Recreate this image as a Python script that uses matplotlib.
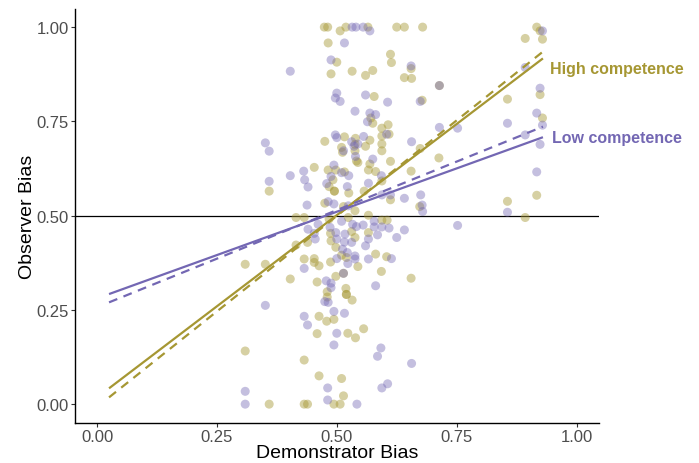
import numpy as np
import matplotlib
matplotlib.use("Agg")
import matplotlib.pyplot as plt

plt.rcParams['font.family'] = ['Liberation Sans', 'DejaVu Sans']

# high competence demonstrators (gold)
high_x = [0.474, 0.481, 0.519, 0.565, 0.625, 0.641, 0.679, 0.507, 0.482, 0.612,
          0.500, 0.614, 0.655, 0.532, 0.575, 0.488, 0.560, 0.641, 0.656, 0.714,
          0.578, 0.678, 0.571, 0.575, 0.594, 0.607, 0.609, 0.594, 0.516, 0.539,
          0.475, 0.569, 0.538, 0.560, 0.594, 0.510, 0.538, 0.512, 0.594, 0.674,
          0.713, 0.541, 0.544, 0.569, 0.453, 0.612, 0.482, 0.498, 0.566, 0.581,
          0.516, 0.655, 0.492, 0.594, 0.359, 0.495, 0.495, 0.484, 0.525, 0.557,
          0.612, 0.475, 0.673, 0.538, 0.514, 0.415, 0.432, 0.439, 0.415, 0.484,
          0.487, 0.488, 0.524, 0.531, 0.538, 0.594, 0.605, 0.566, 0.566, 0.498,
          0.510, 0.520, 0.487, 0.544, 0.581, 0.604, 0.432, 0.453, 0.453, 0.463,
          0.309, 0.351, 0.403, 0.514, 0.498, 0.593, 0.655, 0.459, 0.519, 0.520,
          0.520, 0.480, 0.480, 0.532, 0.463, 0.479, 0.494, 0.459, 0.523, 0.539,
          0.556, 0.309, 0.432, 0.463, 0.510, 0.514, 0.359, 0.432, 0.439, 0.494,
          0.507, 0.917, 0.924, 0.893, 0.929, 0.924, 0.856, 0.929, 0.917, 0.856,
          0.893]
high_y = [1.000, 1.000, 1.000, 1.000, 1.000, 1.000, 1.000, 0.990, 0.958, 0.928,
          0.907, 0.906, 0.890, 0.883, 0.885, 0.876, 0.872, 0.866, 0.864, 0.845,
          0.816, 0.806, 0.759, 0.745, 0.732, 0.741, 0.716, 0.711, 0.709, 0.705,
          0.697, 0.700, 0.689, 0.684, 0.690, 0.681, 0.672, 0.668, 0.672, 0.678,
          0.653, 0.645, 0.641, 0.637, 0.628, 0.644, 0.621, 0.621, 0.621, 0.617,
          0.616, 0.618, 0.595, 0.592, 0.565, 0.565, 0.565, 0.577, 0.560, 0.565,
          0.542, 0.533, 0.524, 0.513, 0.524, 0.495, 0.495, 0.429, 0.422, 0.491,
          0.453, 0.433, 0.495, 0.458, 0.442, 0.488, 0.488, 0.455, 0.501, 0.416,
          0.395, 0.389, 0.377, 0.365, 0.398, 0.391, 0.385, 0.386, 0.376, 0.367,
          0.371, 0.371, 0.332, 0.347, 0.339, 0.352, 0.334, 0.324, 0.307, 0.291,
          0.291, 0.298, 0.284, 0.276, 0.233, 0.220, 0.225, 0.187, 0.188, 0.176,
          0.200, 0.141, 0.117, 0.075, 0.068, 0.022, 0.000, 0.000, 0.000, 0.000,
          0.000, 1.000, 0.990, 0.970, 0.968, 0.821, 0.809, 0.759, 0.554, 0.538,
          0.495]

# low competence demonstrators (purple)
low_x = [0.532, 0.540, 0.555, 0.569, 0.516, 0.488, 0.655, 0.403, 0.714, 0.500,
         0.497, 0.507, 0.560, 0.606, 0.674, 0.538, 0.569, 0.581, 0.564, 0.714,
         0.752, 0.604, 0.497, 0.500, 0.556, 0.531, 0.351, 0.359, 0.544, 0.536,
         0.514, 0.656, 0.539, 0.575, 0.494, 0.431, 0.403, 0.510, 0.525, 0.593,
         0.488, 0.433, 0.479, 0.566, 0.359, 0.440, 0.522, 0.675, 0.612, 0.594,
         0.641, 0.438, 0.482, 0.494, 0.678, 0.524, 0.679, 0.752, 0.440, 0.461,
         0.453, 0.455, 0.486, 0.498, 0.500, 0.517, 0.510, 0.533, 0.541, 0.555,
         0.516, 0.531, 0.578, 0.594, 0.578, 0.609, 0.585, 0.566, 0.560, 0.625,
         0.641, 0.512, 0.522, 0.500, 0.538, 0.538, 0.523, 0.566, 0.614, 0.432,
         0.514, 0.478, 0.488, 0.488, 0.581, 0.475, 0.482, 0.351, 0.494, 0.516,
         0.432, 0.439, 0.500, 0.494, 0.592, 0.585, 0.656, 0.481, 0.594, 0.606,
         0.309, 0.309, 0.481, 0.542, 0.929, 0.893, 0.924, 0.917, 0.856, 0.929,
         0.893, 0.924, 0.917, 0.856]
low_y = [1.000, 1.000, 1.000, 0.990, 0.958, 0.913, 0.897, 0.883, 0.845, 0.825,
         0.812, 0.803, 0.820, 0.801, 0.803, 0.777, 0.772, 0.768, 0.749, 0.734,
         0.732, 0.716, 0.714, 0.707, 0.710, 0.696, 0.693, 0.671, 0.690, 0.684,
         0.672, 0.696, 0.657, 0.650, 0.634, 0.618, 0.606, 0.614, 0.606, 0.606,
         0.604, 0.595, 0.585, 0.586, 0.591, 0.576, 0.577, 0.555, 0.555, 0.555,
         0.546, 0.528, 0.537, 0.531, 0.528, 0.526, 0.511, 0.474, 0.464, 0.477,
         0.453, 0.438, 0.469, 0.455, 0.438, 0.451, 0.485, 0.477, 0.471, 0.475,
         0.430, 0.429, 0.485, 0.470, 0.470, 0.467, 0.449, 0.438, 0.420, 0.442,
         0.462, 0.411, 0.402, 0.386, 0.393, 0.385, 0.373, 0.385, 0.386, 0.360,
         0.347, 0.327, 0.321, 0.309, 0.314, 0.272, 0.270, 0.262, 0.246, 0.241,
         0.233, 0.210, 0.188, 0.157, 0.149, 0.127, 0.108, 0.043, 0.043, 0.054,
         0.034, 0.000, 0.011, 0.000, 0.990, 0.893, 0.838, 0.772, 0.745, 0.740,
         0.714, 0.689, 0.616, 0.509]

# fitted lines (solid = observed fit, dashed = model)
line_x = [0.025, 0.93]
high_fit = [0.042, 0.917]
high_model = [0.018, 0.935]
low_fit = [0.292, 0.708]
low_model = [0.270, 0.736]

gold = '#a69733'
purple = '#7367b3'

fig = plt.figure(figsize=(6.99, 4.64), dpi=100)
ax = fig.add_axes([0.1073, 0.0862, 0.7497, 0.8922])

ax.axhline(0.5, color='black', lw=0.9, zorder=1)
ax.scatter(high_x, high_y, s=42, color=gold, alpha=0.45, edgecolors='none', zorder=2)
ax.scatter(low_x, low_y, s=42, color=purple, alpha=0.42, edgecolors='none', zorder=2)

ax.plot(line_x, high_fit, color=gold, lw=1.6, zorder=3, solid_capstyle='butt')
ax.plot(line_x, high_model, color=gold, lw=1.6, ls=(0, (4, 3)), zorder=3)
ax.plot(line_x, low_fit, color=purple, lw=1.6, zorder=3, solid_capstyle='butt')
ax.plot(line_x, low_model, color=purple, lw=1.6, ls=(0, (4, 3)), zorder=3)

ax.text(0.9445, 0.889, 'High competence', color=gold, fontsize=11.5, fontweight='bold',
        va='center', ha='left', clip_on=False)
ax.text(0.949, 0.708, 'Low competence', color=purple, fontsize=11.5, fontweight='bold',
        va='center', ha='left', clip_on=False)

ax.set_xlim(-0.046, 1.047)
ax.set_ylim(-0.05, 1.048)
ticks = [0.0, 0.25, 0.5, 0.75, 1.0]
ax.set_xticks(ticks)
ax.set_yticks(ticks)
ax.set_xticklabels(['0.00', '0.25', '0.50', '0.75', '1.00'])
ax.set_yticklabels(['0.00', '0.25', '0.50', '0.75', '1.00'])
ax.tick_params(colors='#333333', labelcolor='#4d4d4d', labelsize=12, length=3,
               width=0.8, pad=1.5)

for side in ['top', 'right']:
    ax.spines[side].set_visible(False)
for side in ['left', 'bottom']:
    ax.spines[side].set_linewidth(1.0)
    ax.spines[side].set_color('black')

ax.set_xlabel('Demonstrator Bias', fontsize=14, labelpad=0)
ax.set_ylabel('Observer Bias', fontsize=14, labelpad=0)

fig.savefig('out.png', dpi=100)
